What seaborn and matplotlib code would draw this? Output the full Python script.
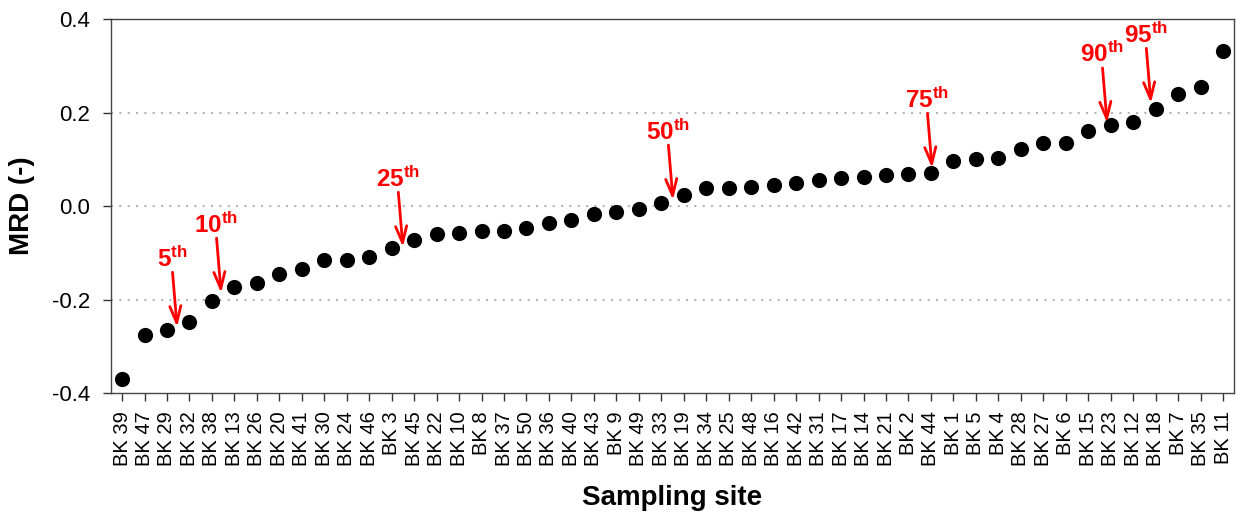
import matplotlib
matplotlib.use("Agg")
import matplotlib.pyplot as plt
import numpy as np
import pandas as pd
import seaborn as sns

# Sampling sites ordered by mean relative difference
sites = ["BK 39", "BK 47", "BK 29", "BK 32", "BK 38", "BK 13", "BK 26", "BK 20",
         "BK 41", "BK 30", "BK 24", "BK 46", "BK 3", "BK 45", "BK 22", "BK 10",
         "BK 8", "BK 37", "BK 50", "BK 36", "BK 40", "BK 43", "BK 9", "BK 49",
         "BK 33", "BK 19", "BK 34", "BK 25", "BK 48", "BK 16", "BK 42", "BK 31",
         "BK 17", "BK 14", "BK 21", "BK 2", "BK 44", "BK 1", "BK 5", "BK 4",
         "BK 28", "BK 27", "BK 6", "BK 15", "BK 23", "BK 12", "BK 18", "BK 7",
         "BK 35", "BK 11"]
mrd = [-0.370, -0.276, -0.265, -0.248, -0.203, -0.173, -0.165, -0.145,
       -0.135, -0.116, -0.116, -0.109, -0.090, -0.073, -0.060, -0.058,
       -0.053, -0.053, -0.047, -0.036, -0.030, -0.017, -0.013, -0.006,
       0.006, 0.024, 0.039, 0.039, 0.041, 0.045, 0.049, 0.056,
       0.060, 0.062, 0.066, 0.068, 0.071, 0.096, 0.101, 0.103,
       0.122, 0.135, 0.135, 0.160, 0.173, 0.180, 0.207, 0.240,
       0.255, 0.332]

# Percentile markers: label, position along the site axis, MRD level
pct_labels = ["5", "10", "25", "50", "75", "90", "95"]
pct_pos = [2.45, 4.41, 12.50, 24.52, 36.05, 43.84, 45.79]
pct_val = [-0.259, -0.186, -0.088, 0.013, 0.081, 0.178, 0.220]

y_ticks = [-0.4, -0.2, 0.0, 0.2, 0.4]

sns.set_theme(style="white")
plt.rcParams["font.family"] = ["Liberation Sans", "DejaVu Sans"]
plt.rcParams["axes.unicode_minus"] = False
plt.rcParams["mathtext.fontset"] = "custom"
plt.rcParams["mathtext.rm"] = "Liberation Sans"
plt.rcParams["mathtext.bf"] = "Liberation Sans:bold"

fig = plt.figure(figsize=(12.42, 5.17), dpi=100)
ax = fig.add_axes([0.0894, 0.2398, 0.9042, 0.7234])

df = pd.DataFrame({"site": sites, "mrd": mrd})
sns.scatterplot(data=df, x="site", y="mrd", ax=ax, s=120, color="black",
                edgecolor="black", linewidth=0, zorder=3, legend=False)

ax.set_xlim(-0.49, len(sites) - 0.51)
ax.set_ylim(-0.4, 0.4)
ax.set_yticks(y_ticks)
ax.set_yticklabels([f"{v:.1f}" for v in y_ticks])
ax.set_xticks(range(len(sites)))
ax.set_xticklabels(sites, rotation=90, va="top", ha="center")

for v in y_ticks[1:-1]:
    ax.axhline(v, color="#b5b5b5", lw=1.5, ls=(0, (1, 3)), zorder=1)

ax.tick_params(axis="both", which="major", direction="out", length=6, width=1,
               color="#333333", labelcolor="black",
               bottom=True, left=True, top=False, right=False)
ax.tick_params(axis="x", pad=7, labelsize=14.5)
ax.tick_params(axis="y", pad=9, labelsize=16)
for sp in ax.spines.values():
    sp.set_color("#444444")
    sp.set_linewidth(1.0)

ax.set_xlabel("Sampling site", fontsize=20, fontweight="bold", labelpad=14,
              color="black")
ax.set_ylabel("MRD (-)", fontsize=20, fontweight="bold", labelpad=12,
              color="black")

# Percentile arrows with labels
for lab, xp, yv in zip(pct_labels, pct_pos, pct_val):
    ax.annotate("", xy=(xp, yv), xytext=(-3.3, 39.5), textcoords="offset points",
                arrowprops=dict(arrowstyle="->,head_length=0.6,head_width=0.2",
                                color="#ff0000", lw=2.0, shrinkA=0, shrinkB=0,
                                mutation_scale=20),
                zorder=4)
    ax.annotate(rf"$\mathbf{{{lab}^{{th}}}}$", xy=(xp, yv), xytext=(-3.3, 43.5),
                textcoords="offset points", ha="center", va="baseline",
                color="#ff0000", fontsize=17.5, zorder=4)

fig.savefig("out.png", dpi=100)
